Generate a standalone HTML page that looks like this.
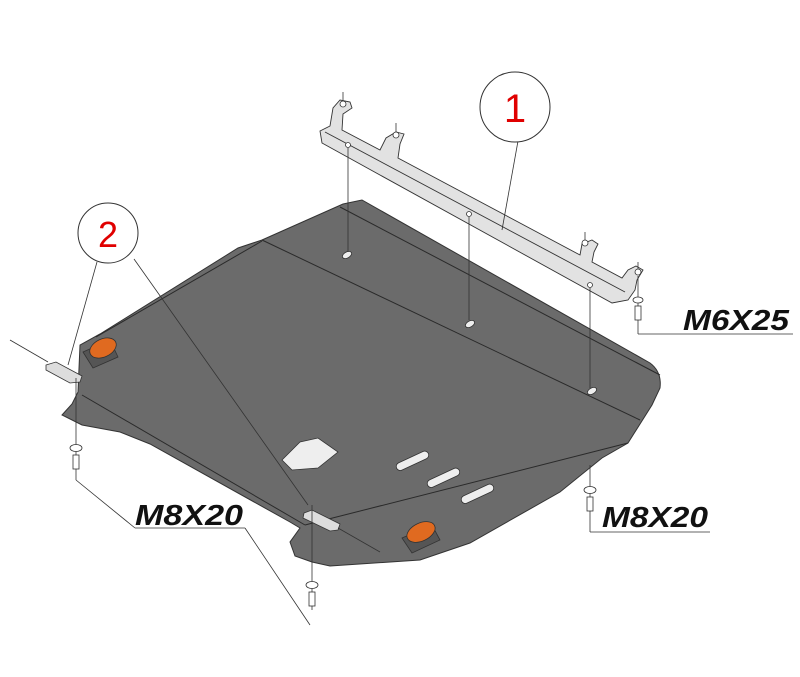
<!DOCTYPE html>
<html><head><meta charset="utf-8"><style>
html,body{margin:0;padding:0;background:#fff;width:800px;height:677px;overflow:hidden}
svg{display:block}
.lab{font-family:"Liberation Sans",sans-serif;font-style:italic;font-weight:bold;font-size:29px;fill:#111}
</style></head><body>
<svg width="800" height="677" viewBox="0 0 800 677" xmlns="http://www.w3.org/2000/svg">
<path d="M343,204 L362,200 L650,363 Q662,372 660,388 L652,405 L628,443 L602,458 L560,492 L470,543 L420,560 L330,566 L312,562 L295,556 L290,542 L300,528 L290,522 L150,444 L120,432 L82,425 L62,415 L72,404 L78,392 L80,345 L100,334 L238,248 L262,240 Z" fill="#6b6b6b" stroke="#333" stroke-width="1"/>
<g stroke="#2a2a2a" stroke-width="1" fill="none">
<line x1="262" y1="240" x2="640" y2="420"/>
<line x1="340" y1="207" x2="660" y2="375"/>
<line x1="82" y1="395" x2="305" y2="525"/>
<line x1="305" y1="525" x2="628" y2="443"/>
<line x1="96" y1="337" x2="262" y2="241"/>
</g>
<g fill="#eee" stroke="#333" stroke-width="0.8">
<path d="M282,460 L300,442 L318,438 L338,452 L318,468 L292,470 Z"/>
<rect x="395" y="457" width="35" height="8" rx="4" transform="rotate(-25 412 461)"/>
<rect x="426" y="474" width="35" height="8" rx="4" transform="rotate(-25 443 478)"/>
<rect x="460" y="490" width="35" height="8" rx="4" transform="rotate(-25 477 494)"/>
<ellipse cx="347" cy="255" rx="5" ry="3" transform="rotate(-30 347 255)"/>
<ellipse cx="470" cy="324" rx="5" ry="3" transform="rotate(-30 470 324)"/>
<ellipse cx="592" cy="391" rx="5" ry="3" transform="rotate(-30 592 391)"/>
</g>
<g stroke="#333" stroke-width="0.8">
<path d="M83,352 L110,340 L118,357 L93,368 Z" fill="#555"/>
<ellipse cx="103" cy="348" rx="14" ry="9" fill="#e06a20" transform="rotate(-25 103 348)"/>
<path d="M402,538 L432,525 L440,540 L412,553 Z" fill="#555"/>
<ellipse cx="421" cy="532" rx="15" ry="9" fill="#e06a20" transform="rotate(-25 421 532)"/>
</g>
<g fill="#ddd" stroke="#333" stroke-width="0.8">
<path d="M46,365 L56,362 L82,376 L80,382 L70,383 L46,370 Z"/>
<path d="M304,513 L312,510 L340,524 L338,530 L330,531 L303,518 Z"/>
</g>
<g fill="#e2e2e2" stroke="#333" stroke-width="0.9">
<path d="M320,131 L330,126 L333,108 L340,100 L350,102 L352,108 L343,114 L342,130 L380,150 L386,138 L396,132 L404,134 L400,144 L398,158 L580,255 L582,244 L592,240 L598,244 L594,252 L592,262 L622,278 L628,270 L636,266 L643,270 L637,280 L635,290 L628,300 L612,303 L322,143 Z"/>
<line x1="325" y1="132" x2="625" y2="292"/>
</g>
<g fill="#fff" stroke="#333" stroke-width="0.8">
<circle cx="343" cy="104" r="3"/><circle cx="396" cy="135" r="3"/><circle cx="585" cy="243" r="3"/><circle cx="638" cy="272" r="3"/>
<circle cx="348" cy="145" r="2.5"/><circle cx="469" cy="214" r="2.5"/><circle cx="590" cy="285" r="2.5"/>
</g>
<g stroke="#333" stroke-width="0.8" fill="none">
<line x1="348" y1="148" x2="348" y2="252"/>
<line x1="469" y1="217" x2="469" y2="320"/>
<line x1="590" y1="288" x2="590" y2="388"/>
<line x1="343" y1="92" x2="343" y2="101"/>
<line x1="396" y1="123" x2="396" y2="132"/>
<line x1="585" y1="232" x2="585" y2="240"/>
<line x1="638" y1="262" x2="638" y2="269"/>
<line x1="638" y1="276" x2="638" y2="334"/><line x1="638" y1="334" x2="793" y2="334"/>
<line x1="590" y1="465" x2="590" y2="532"/><line x1="590" y1="532" x2="710" y2="532"/>
<line x1="76" y1="378" x2="76" y2="480"/><line x1="76" y1="480" x2="135" y2="528"/><line x1="135" y1="528" x2="245" y2="528"/><line x1="245" y1="528" x2="310" y2="625"/>
<line x1="312" y1="505" x2="312" y2="610"/>
<line x1="10" y1="340" x2="48" y2="362"/>
<line x1="338" y1="528" x2="380" y2="552"/>
<line x1="518" y1="141" x2="502" y2="230"/>
<line x1="97" y1="262" x2="68" y2="365"/>
<line x1="134" y1="259" x2="308" y2="505"/>
</g>
<g fill="#fff" stroke="#333" stroke-width="0.8">
<ellipse cx="638" cy="300" rx="5" ry="3"/><rect x="635" y="306" width="6" height="14"/>
<ellipse cx="590" cy="490" rx="6" ry="3.5"/><rect x="587" y="497" width="6" height="14"/>
<ellipse cx="76" cy="448" rx="6" ry="3.5"/><rect x="73" y="455" width="6" height="14"/>
<ellipse cx="312" cy="585" rx="6" ry="3.5"/><rect x="309" y="592" width="6" height="14"/>
</g>
<circle cx="515" cy="107" r="35" fill="#fff" stroke="#333" stroke-width="1"/>
<text x="515" y="122" font-family="Liberation Sans,sans-serif" font-size="40" fill="#e00000" text-anchor="middle">1</text>
<circle cx="108" cy="233" r="30" fill="#fff" stroke="#333" stroke-width="1"/>
<text x="108" y="247" font-family="Liberation Sans,sans-serif" font-size="36" fill="#e00000" text-anchor="middle">2</text>
<text class="lab" x="683" y="330" textLength="106" lengthAdjust="spacingAndGlyphs">M6X25</text>
<text class="lab" x="602" y="527" textLength="106" lengthAdjust="spacingAndGlyphs">M8X20</text>
<text class="lab" x="135" y="525" textLength="108" lengthAdjust="spacingAndGlyphs">M8X20</text>
</svg>
</body></html>
